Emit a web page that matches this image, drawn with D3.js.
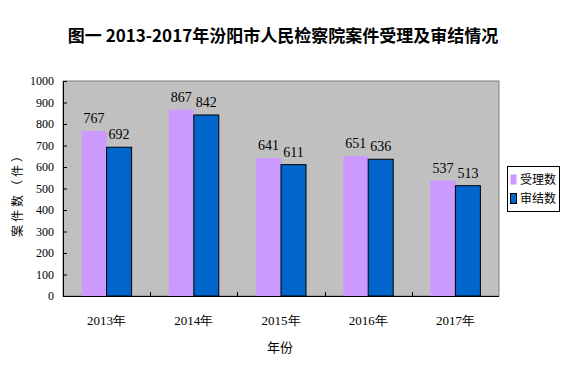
<!DOCTYPE html>
<html>
<head>
<meta charset="utf-8">
<script src="https://cdn.jsdelivr.net/npm/d3@7"></script>
<style>
  body { margin: 0; background: #fff; }
  svg { display: block; }
  text { fill: #000; }
</style>
</head>
<body>
<svg width="568" height="377"></svg>
<script>
// data
const years = ["2013年", "2014年", "2015年", "2016年", "2017年"];
const seriesNames = ["受理数", "审结数"];
const accepted = [767, 867, 641, 651, 537];
const concluded = [692, 842, 611, 636, 513];
const yTicks = [0, 100, 200, 300, 400, 500, 600, 700, 800, 900, 1000];
const colors = ["#CC99FF", "#0066CC"];

let svg = d3.select("svg");

let plot = { left: 63, right: 499, top: 81, bottom: 296 };
let numFont = "'Liberation Serif', 'DejaVu Serif', serif";
let cjkFont = "'Noto Sans CJK SC', sans-serif";

let rows = years.map((y, i) => ({ year: y, values: [accepted[i], concluded[i]] }));

let x = d3.scaleBand()
    .domain(years)
    .range([plot.left, plot.right])
    .paddingInner(0.4266)
    .paddingOuter(0.2133);

let xSub = d3.scaleBand()
    .domain(seriesNames)
    .range([0, x.bandwidth()]);

let y = d3.scaleLinear()
    .domain([0, 1000])
    .range([plot.bottom, plot.top]);

// title
svg.append("text")
    .attr("x", 283)
    .attr("y", 42)
    .attr("text-anchor", "middle")
    .attr("font-family", cjkFont)
    .attr("font-weight", "bold")
    .attr("font-size", 17)
    .text("图一 2013-2017年汾阳市人民检察院案件受理及审结情况");

// plot background
svg.append("rect")
    .attr("x", plot.left)
    .attr("y", plot.top)
    .attr("width", plot.right - plot.left)
    .attr("height", plot.bottom - plot.top)
    .attr("fill", "#C0C0C0")
    .attr("stroke", "#808080")
    .attr("stroke-width", 1);

// bars
let groups = svg.append("g")
    .selectAll("g")
    .data(rows)
    .enter().append("g")
    .attr("transform", d => `translate(${x(d.year)},0)`);

groups.selectAll("rect")
    .data(d => d.values.map((v, i) => ({ key: seriesNames[i], value: v, i: i })))
    .enter().append("rect")
    .attr("x", d => xSub(d.key))
    .attr("y", d => y(d.value))
    .attr("width", xSub.bandwidth())
    .attr("height", d => y(0) - y(d.value))
    .attr("fill", d => colors[d.i])
    .attr("stroke", d => d.i === 1 ? "#000" : "none")
    .attr("stroke-width", 1);

groups.selectAll("text")
    .data(d => d.values.map((v, i) => ({ key: seriesNames[i], value: v })))
    .enter().append("text")
    .attr("x", d => xSub(d.key) + xSub.bandwidth() / 2)
    .attr("y", d => y(d.value) - 8)
    .attr("text-anchor", "middle")
    .attr("font-family", numFont)
    .attr("font-size", 14)
    .text(d => d.value);

// y axis
let yAxis = svg.append("g")
    .attr("transform", `translate(${plot.left},0)`)
    .call(d3.axisLeft(y).tickValues(yTicks).tickFormat(d3.format("d"))
        .tickSizeInner(-4).tickSizeOuter(0).tickPadding(9));
yAxis.select(".domain").attr("stroke", "#000");
yAxis.selectAll("text")
    .attr("font-family", numFont)
    .attr("font-size", 12)
    .attr("fill", "#000");

// x axis, ticks between categories
let xAxis = svg.append("g")
    .attr("transform", `translate(0,${plot.bottom})`);
xAxis.append("line")
    .attr("x1", plot.left).attr("x2", plot.right)
    .attr("y1", 0.5).attr("y2", 0.5)
    .attr("stroke", "#000");
let step = x.step();
xAxis.selectAll("line.tick")
    .data(years.slice(1))
    .enter().append("line")
    .attr("class", "tick")
    .attr("x1", d => Math.round(x(d) - (step - x.bandwidth()) / 2) + 0.5)
    .attr("x2", d => Math.round(x(d) - (step - x.bandwidth()) / 2) + 0.5)
    .attr("y1", 0).attr("y2", -4)
    .attr("stroke", "#000");
xAxis.selectAll("text")
    .data(years)
    .enter().append("text")
    .attr("x", d => x(d) + x.bandwidth() / 2)
    .attr("y", 29)
    .attr("text-anchor", "middle")
    .attr("font-family", numFont)
    .attr("font-size", 13)
    .text(d => d);

// axis titles
svg.append("text")
    .attr("x", 280)
    .attr("y", 352)
    .attr("text-anchor", "middle")
    .attr("font-family", cjkFont)
    .attr("font-size", 13)
    .text("年份");

svg.append("text")
    .attr("transform", "translate(22,192) rotate(-90)")
    .attr("text-anchor", "middle")
    .attr("font-family", cjkFont)
    .attr("font-size", 12)
    .attr("letter-spacing", 3)
    .attr("fill", "#3a2a10")
    .text("案件数（件）");

// legend
let legend = svg.append("g").attr("transform", "translate(507,166)");
legend.append("rect")
    .attr("x", 0.5).attr("y", 0.5)
    .attr("width", 52).attr("height", 45)
    .attr("fill", "#fff")
    .attr("stroke", "#000");
let item = legend.selectAll("g")
    .data(seriesNames)
    .enter().append("g")
    .attr("transform", (d, i) => `translate(3,${8 + i * 19})`);
item.append("rect")
    .attr("x", 0.5).attr("y", 0.5)
    .attr("width", 6).attr("height", 10)
    .attr("fill", (d, i) => colors[i])
    .attr("stroke", (d, i) => i === 1 ? "#000" : "none");
item.append("text")
    .attr("x", 10)
    .attr("y", 10)
    .attr("font-family", cjkFont)
    .attr("font-size", 12)
    .text(d => d);
</script>
</body>
</html>
